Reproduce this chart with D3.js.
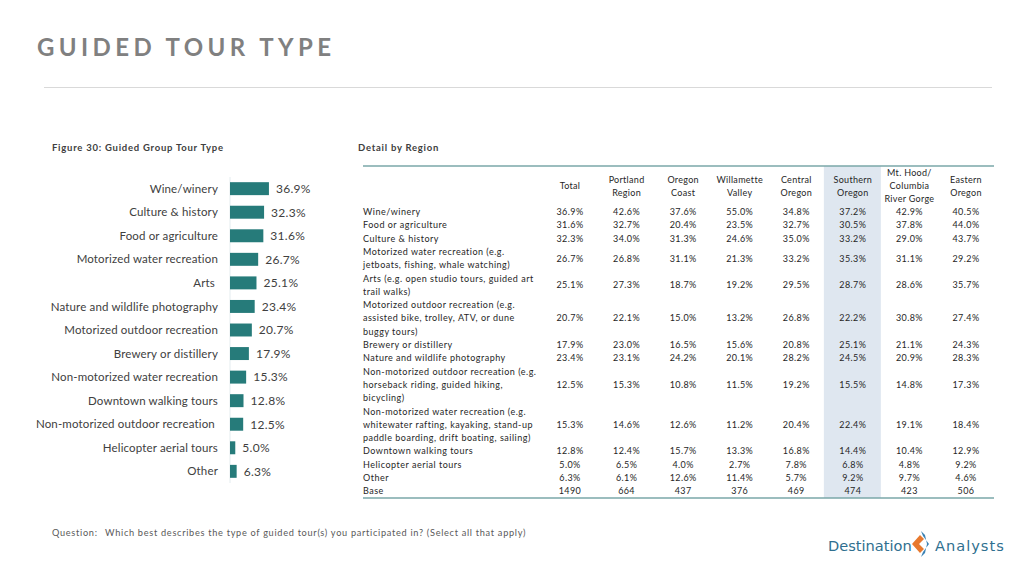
<!DOCTYPE html>
<html><head><meta charset="utf-8">
<script src="https://cdn.jsdelivr.net/npm/d3@7"></script>
<style>
html,body{margin:0;padding:0;background:#fff;}
svg{display:block;font-family:Lato,"Noto Sans",sans-serif;}
</style></head>
<body><svg id="c" width="1024" height="576"></svg>
<script>
// ---- Chart data (Figure 30) ----
const chartCategories = ["Wine/winery","Culture & history","Food or agriculture","Motorized water recreation","Arts ","Nature and wildlife photography","Motorized outdoor recreation","Brewery or distillery","Non-motorized water recreation","Downtown walking tours","Non-motorized outdoor recreation ","Helicopter aerial tours","Other"];
const chartValues = [36.9,32.3,31.6,26.7,25.1,23.4,20.7,17.9,15.3,12.8,12.5,5.0,6.3];

// ---- Table data (Detail by Region) ----
const tableColumns = [["Total"],["Portland","Region"],["Oregon","Coast"],["Willamette","Valley"],["Central","Oregon"],["Southern","Oregon"],["Mt. Hood/","Columbia","River Gorge"],["Eastern","Oregon"]];
const rowLabels = [
 ["Wine/winery"],
 ["Food or agriculture"],
 ["Culture & history"],
 ["Motorized water recreation (e.g.","jetboats, fishing, whale watching)"],
 ["Arts (e.g. open studio tours, guided art","trail walks)"],
 ["Motorized outdoor recreation (e.g.","assisted bike, trolley, ATV, or dune","buggy tours)"],
 ["Brewery or distillery"],
 ["Nature and wildlife photography"],
 ["Non-motorized outdoor recreation (e.g.","horseback riding, guided hiking,","bicycling)"],
 ["Non-motorized water recreation (e.g.","whitewater rafting, kayaking, stand-up","paddle boarding, drift boating, sailing)"],
 ["Downtown walking tours"],
 ["Helicopter aerial tours"],
 ["Other"],
 ["Base"]
];
const rowTotal      = ["36.9%","31.6%","32.3%","26.7%","25.1%","20.7%","17.9%","23.4%","12.5%","15.3%","12.8%","5.0%","6.3%","1490"];
const rowPortland   = ["42.6%","32.7%","34.0%","26.8%","27.3%","22.1%","23.0%","23.1%","15.3%","14.6%","12.4%","6.5%","6.1%","664"];
const rowCoast      = ["37.6%","20.4%","31.3%","31.1%","18.7%","15.0%","16.5%","24.2%","10.8%","12.6%","15.7%","4.0%","12.6%","437"];
const rowWillamette = ["55.0%","23.5%","24.6%","21.3%","19.2%","13.2%","15.6%","20.1%","11.5%","11.2%","13.3%","2.7%","11.4%","376"];
const rowCentral    = ["34.8%","32.7%","35.0%","33.2%","29.5%","26.8%","20.8%","28.2%","19.2%","20.4%","16.8%","7.8%","5.7%","469"];
const rowSouthern   = ["37.2%","30.5%","33.2%","35.3%","28.7%","22.2%","25.1%","24.5%","15.5%","22.4%","14.4%","6.8%","9.2%","474"];
const rowMtHood     = ["42.9%","37.8%","29.0%","31.1%","28.6%","30.8%","21.1%","20.9%","14.8%","19.1%","10.4%","4.8%","9.7%","423"];
const rowEastern    = ["40.5%","44.0%","43.7%","29.2%","35.7%","27.4%","24.3%","28.3%","17.3%","18.4%","12.9%","9.2%","4.6%","506"];
const tableValues = [rowTotal,rowPortland,rowCoast,rowWillamette,rowCentral,rowSouthern,rowMtHood,rowEastern];
const highlightColumn = 5;

const svg = d3.select("#c");

// ---- Title ----
svg.append("text").attr("x",37).attr("y",56).attr("font-size",24).attr("font-weight",700)
  .attr("letter-spacing",4.4).attr("fill","#808080").attr("font-family","Lato, sans-serif").text("GUIDED TOUR TYPE");
svg.append("line").attr("x1",44).attr("x2",992).attr("y1",87.5).attr("y2",87.5).attr("stroke","#d9d9d9").attr("stroke-width",1);

// ---- Subtitles ----
svg.append("text").attr("x",52).attr("y",151).attr("font-size",9.5).attr("font-weight",700).attr("letter-spacing",0.75).attr("fill","#404040").text("Figure 30: Guided Group Tour Type");
svg.append("text").attr("x",358).attr("y",151).attr("font-size",9.5).attr("font-weight",700).attr("letter-spacing",0.75).attr("fill","#404040").text("Detail by Region");

// ---- Bar chart ----
const x = d3.scaleLinear().domain([0,100]).range([230,230+105.5]);
const y = d3.scaleBand().domain(chartCategories).range([177,483]).paddingInner(0.45).paddingOuter(0.22);
const barColor = "#267b7a";
svg.append("line").attr("x1",230).attr("x2",230).attr("y1",177).attr("y2",483).attr("stroke","#e4ecef").attr("stroke-width",1);
const bars = svg.append("g");
bars.selectAll("rect").data(chartCategories).join("rect")
  .attr("x",x(0)).attr("y",d=>y(d)).attr("width",(d,i)=>x(chartValues[i])-x(0)).attr("height",y.bandwidth()).attr("fill",barColor);
bars.selectAll("text.v").data(chartCategories).join("text").attr("class","v")
  .attr("x",(d,i)=>x(chartValues[i])+7).attr("y",d=>y(d)+y.bandwidth()/2).attr("dy","0.36em")
  .attr("font-size",12).attr("letter-spacing",0.3).attr("fill","#404040").text((d,i)=>chartValues[i].toFixed(1)+"%");
bars.selectAll("text.l").data(chartCategories).join("text").attr("class","l")
  .attr("x",218).attr("y",d=>y(d)+y.bandwidth()/2).attr("dy","0.36em").attr("text-anchor","end")
  .style("white-space","pre")
  .attr("font-size",11.5).attr("letter-spacing",0.15).attr("fill","#404040").text(d=>d);

// ---- Table ----
const colX = d3.scalePoint().domain(d3.range(tableColumns.length)).range([570,966]);
const lineH = 13.29;
const tTop = 166, tBot = 498;
svg.append("rect").attr("x",colX(highlightColumn)-29).attr("y",tTop).attr("width",57).attr("height",tBot-tTop).attr("fill","#dfe7f0");
svg.append("line").attr("x1",363).attr("x2",994).attr("y1",tTop).attr("y2",tTop).attr("stroke","#7aa7a8").attr("stroke-width",1.5);
svg.append("line").attr("x1",363).attr("x2",994).attr("y1",tBot).attr("y2",tBot).attr("stroke","#7aa7a8").attr("stroke-width",1.5);

const tfs = 9, tls = 0.5, tcol = "#262626";
const hdr = svg.append("g");
tableColumns.forEach((lines,ci)=>{
  const cy = 186;
  const t = hdr.append("text").attr("x",colX(ci)).attr("text-anchor","middle").attr("font-size",tfs).attr("letter-spacing",0.3).attr("fill",tcol);
  lines.forEach((ln,li)=>{
    t.append("tspan").attr("x",colX(ci)).attr("y",cy + (li-(lines.length-1)/2)*lineH).attr("dy","0.35em").text(ln);
  });
});
let lineIdx = 0;
const firstY = 212;
const body = svg.append("g");
rowLabels.forEach((lines,ri)=>{
  const y0 = firstY + lineIdx*lineH;
  const t = body.append("text").attr("font-size",tfs).attr("letter-spacing",tls).attr("fill",tcol);
  lines.forEach((ln,li)=>{
    t.append("tspan").attr("x",363).attr("y",y0+li*lineH).attr("dy","0.35em").text(ln);
  });
  const cy = y0 + (lines.length-1)/2*lineH;
  tableValues.forEach((col,ci)=>{
    body.append("text").attr("x",colX(ci)).attr("y",cy).attr("dy","0.35em").attr("text-anchor","middle")
      .attr("font-size",tfs).attr("letter-spacing",0.4).attr("fill",tcol).text(col[ri]);
  });
  lineIdx += lines.length;
});

// ---- Footer ----
svg.append("text").attr("x",52).attr("y",536).attr("font-size",9.2).attr("letter-spacing",0.7).attr("fill","#595959").text("Question:");
svg.append("text").attr("x",105).attr("y",536).attr("font-size",9.2).attr("letter-spacing",0.7).attr("fill","#595959").text("Which best describes the type of guided tour(s) you participated in? (Select all that apply)");

// ---- Logo ----
const logo = svg.append("g");
logo.append("text").attr("x",828).attr("y",551).attr("font-family","'DejaVu Sans', sans-serif").attr("font-size",14.6).attr("fill","#2f6f8f").text("Destination");
logo.append("path").attr("d","M920,535 L912,544 L920,553 L924,549 L919,544 L924,539 Z").attr("fill","#e8792e");
logo.append("path").attr("d","M921,531 L925,535 L927,544 L925,553 L921,557 L923,552 L929,544 L923,536 Z").attr("fill","#3a82b4");
logo.append("text").attr("x",935).attr("y",551).attr("font-family","'DejaVu Sans', sans-serif").attr("font-size",14.6).attr("letter-spacing",1).attr("fill","#2f6f8f").text("Analysts");
</script></body></html>
